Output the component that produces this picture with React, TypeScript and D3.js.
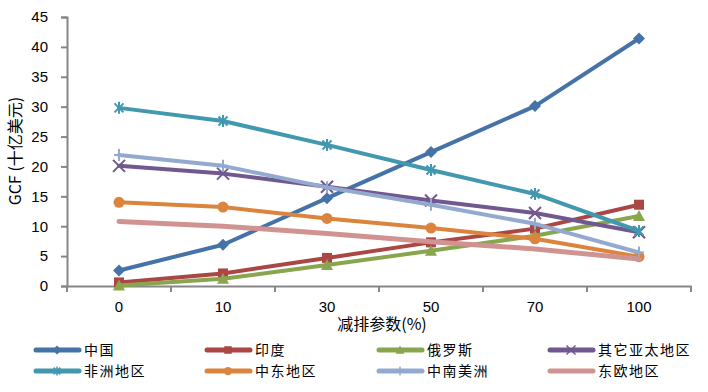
import React, { useEffect, useRef } from 'react';
import * as d3 from 'd3';

const categories = ['0', '10', '30', '50', '70', '100'];
const yTicks = [0, 5, 10, 15, 20, 25, 30, 35, 40, 45];

const seriesNames = ['中国', '印度', '俄罗斯', '其它亚太地区', '非洲地区', '中东地区', '中南美洲', '东欧地区'];
const seriesColors = ['#4572A7', '#AA4643', '#89A54E', '#71588F', '#4198AF', '#DB843D', '#93A9CF', '#D19392'];
const seriesMarkers = ['diamond', 'square', 'triangle', 'x', 'star', 'circle', 'plus', 'none'];

const china = [2.6, 6.9, 14.7, 22.4, 30.1, 41.4];
const india = [0.6, 2.1, 4.7, 7.3, 9.6, 13.6];
const russia = [0.1, 1.2, 3.5, 5.9, 8.4, 11.7];
const otherAsia = [20.1, 18.8, 16.6, 14.3, 12.2, 9.0];
const africa = [29.8, 27.6, 23.6, 19.4, 15.4, 9.2];
const middleEast = [14.0, 13.2, 11.3, 9.7, 7.9, 4.9];
const latinAmerica = [21.9, 20.1, 16.5, 13.6, 10.4, 5.6];
const easternEurope = [10.8, 10.0, 8.8, 7.4, 6.2, 4.5];

const seriesValues = [china, india, russia, otherAsia, africa, middleEast, latinAmerica, easternEurope];

const font = '"Liberation Sans", "Noto Sans CJK SC", sans-serif';
const cjk = '"Noto Sans CJK SC", "Liberation Sans", sans-serif';

function drawMarker(g, type, x, y, color) {
  if (type === 'diamond') {
    g.append('path').attr('d', `M${x},${y - 6}L${x + 6},${y}L${x},${y + 6}L${x - 6},${y}Z`).attr('fill', color);
  } else if (type === 'square') {
    g.append('rect').attr('x', x - 5).attr('y', y - 5).attr('width', 10).attr('height', 10).attr('fill', color);
  } else if (type === 'triangle') {
    g.append('path').attr('d', `M${x},${y - 6}L${x + 6},${y + 5}L${x - 6},${y + 5}Z`).attr('fill', color);
  } else if (type === 'circle') {
    g.append('circle').attr('cx', x).attr('cy', y).attr('r', 5.5).attr('fill', color);
  } else if (type === 'x' || type === 'star' || type === 'plus') {
    const s = type === 'x' ? 6 : 4.5;
    const p = d3.path();
    if (type !== 'plus') {
      p.moveTo(x - s, y - s); p.lineTo(x + s, y + s);
      p.moveTo(x - s, y + s); p.lineTo(x + s, y - s);
    }
    if (type !== 'x') {
      p.moveTo(x, y - 6); p.lineTo(x, y + 6);
    }
    if (type === 'plus') {
      p.moveTo(x - 5, y); p.lineTo(x + 5, y);
    }
    g.append('path').attr('d', p.toString()).attr('stroke', color).attr('stroke-width', 2).attr('fill', 'none');
  }
}

export default function App() {
  const svgRef = useRef(null);

  useEffect(() => {
    const svg = d3.select(svgRef.current);
    svg.selectAll('*').remove();

    const left = 67, right = 691, top = 17, bottom = 286;

    const x = d3.scaleBand().domain(categories).range([left, right]);
    const y = d3.scaleLinear().domain([0, 45]).range([bottom, top]);

    // y axis
    const yAxis = svg.append('g').attr('transform', `translate(${left},0)`)
      .call(d3.axisLeft(y).tickValues(yTicks).tickSize(6).tickPadding(13));
    yAxis.select('.domain').attr('stroke', '#868686').attr('stroke-width', 2);
    yAxis.selectAll('.tick line').attr('stroke', '#868686').attr('stroke-width', 2);
    yAxis.selectAll('.tick text').attr('font-family', font).attr('font-size', 15).attr('fill', '#000');

    // x axis
    const xAxis = svg.append('g').attr('transform', `translate(0,${bottom})`)
      .call(d3.axisBottom(x).tickSize(0).tickPadding(15));
    xAxis.select('.domain').attr('stroke', '#868686').attr('stroke-width', 2);
    xAxis.selectAll('.tick text').attr('font-family', font).attr('font-size', 15).attr('fill', '#000');
    const bounds = categories.map((c) => x(c)).concat([right]);
    xAxis.selectAll('.bound').data(bounds).enter().append('line')
      .attr('x1', (d) => d).attr('x2', (d) => d).attr('y1', 0).attr('y2', 6)
      .attr('stroke', '#868686').attr('stroke-width', 2);

    svg.append('text').attr('x', 382).attr('y', 330).attr('text-anchor', 'middle')
      .attr('font-family', cjk).attr('font-size', 16).text('减排参数(%)');

    svg.append('text').attr('transform', 'translate(21,151) rotate(-90)').attr('text-anchor', 'middle')
      .attr('font-family', cjk).attr('font-size', 16).text('GCF (十亿美元)');

    const line = d3.line().x((d, i) => x(categories[i]) + x.bandwidth() / 2).y((d) => y(d));

    const plot = svg.append('g');
    seriesValues.forEach((vals, k) => {
      const g = plot.append('g');
      g.append('path').attr('d', line(vals)).attr('fill', 'none')
        .attr('stroke', seriesColors[k]).attr('stroke-width', k === 7 ? 5 : 4)
        .attr('stroke-linejoin', 'round').attr('stroke-linecap', 'round');
      vals.forEach((v, i) => drawMarker(g, seriesMarkers[k], x(categories[i]) + x.bandwidth() / 2, y(v), seriesColors[k]));
    });

    // legend
    const legX = [36, 207, 379, 550];
    const legY = [350, 371];
    seriesNames.forEach((name, k) => {
      const lx = legX[k % 4], ly = legY[Math.floor(k / 4)];
      const g = svg.append('g');
      g.append('line').attr('x1', lx).attr('x2', lx + 43).attr('y1', ly).attr('y2', ly)
        .attr('stroke', seriesColors[k]).attr('stroke-width', 5).attr('stroke-linecap', 'round');
      const cx = lx + 21;
      const m = g.append('g').attr('transform', `translate(${cx},${ly}) scale(0.75) translate(${-cx},${-ly})`);
      drawMarker(m, seriesMarkers[k], cx, ly, seriesColors[k]);
      g.append('text').attr('x', lx + 48).attr('y', ly + 5).attr('font-family', cjk).attr('font-size', 14)
        .attr('letter-spacing', 1.5).text(name);
    });
  }, []);

  return (
    <svg ref={svgRef} width={708} height={392} style={{ position: 'absolute', left: 0, top: 0, background: '#fff' }} />
  );
}
